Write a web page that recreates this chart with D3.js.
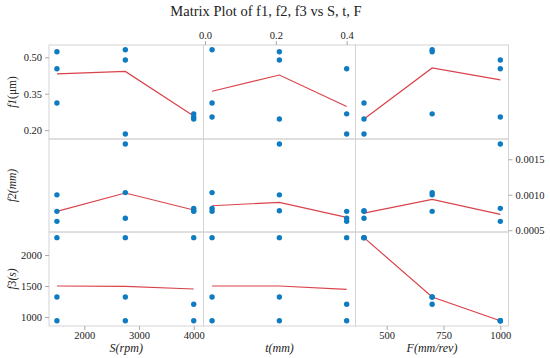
<!DOCTYPE html>
<html>
<head>
<meta charset="utf-8">
<script src="https://cdn.jsdelivr.net/npm/d3@7"></script>
<style>
  body { margin: 0; background: #fff; }
  svg { display: block; }
  .tick line { stroke: #aaa; }
</style>
</head>
<body>
<div id="chart"></div>
<script>
// nine runs (L9 design)
const S = [1500, 1500, 1500, 2750, 2750, 2750, 4000, 4000, 4000];
const t = [0.02, 0.21, 0.40, 0.02, 0.21, 0.40, 0.02, 0.21, 0.40];
const F = [400, 700, 1000, 700, 1000, 400, 1000, 400, 700];
const f1 = [0.312, 0.523, 0.453, 0.531, 0.489, 0.184, 0.254, 0.246, 0.267];
const f2 = [0.000766, 0.000998, 0.000625, 0.00103, 0.001714, 0.000668, 0.000808, 0.000775, 0.000766];
const f3 = [2280, 1323, 940, 1323, 940, 2280, 940, 2280, 1205];

// smoother values at each factor level
const levelsS = [1500, 2750, 4000];
const levelsT = [0.02, 0.21, 0.40];
const levelsF = [400, 700, 1000];
const fitF1 = { S: [0.432, 0.442, 0.258], t: [0.360, 0.427, 0.297], F: [0.246, 0.456, 0.407] };
const fitF2 = { S: [0.000766, 0.001024, 0.000785], t: [0.000845, 0.000893, 0.000682], F: [0.000742, 0.000935, 0.000724] };
const fitF3 = { S: [1500, 1495, 1452], t: [1500, 1500, 1446], F: [2280, 1323, 940] };

// tick labels
const ticksS = [2000, 3000, 4000];
const ticksT = [0.0, 0.2, 0.4];
const ticksF = [500, 750, 1000];
const ticksF1 = [0.20, 0.35, 0.50];
const ticksF2 = [0.0005, 0.0010, 0.0015];
const ticksF3 = [1000, 1500, 2000];

const W = 550, H = 358;
const SERIF = 'Liberation Serif';
const colEdges = [49, 203.5, 355.5, 508.5];
const rowEdges = [45, 139, 232, 326];

const cols = [
    { key: 'S', data: S, levels: levelsS, domain: [1355, 4179], ticks: ticksS, fmt: d3.format('d'), side: 'bottom',
      label: [{ t: 'S(rpm)', it: true }] },
    { key: 't', data: t, levels: levelsT, domain: [-0.0042, 0.4249], ticks: ticksT, fmt: d3.format('.1f'), side: 'top',
      label: [{ t: 't(mm)', it: true }] },
    { key: 'F', data: F, levels: levelsF, domain: [362.6, 1036], ticks: ticksF, fmt: d3.format('d'), side: 'bottom',
      label: [{ t: 'F(mm/rev)', it: true }] }
];
const rows = [
    { data: f1, fit: fitF1, domain: [0.1634, 0.5507], ticks: ticksF1, fmt: d3.format('.2f'), side: 'left',
      label: [{ t: 'f1', it: true }, { t: '(μm)', it: false }] },
    { data: f2, fit: fitF2, domain: [0.000475, 0.001785], ticks: ticksF2, fmt: d3.format('.4f'), side: 'right',
      label: [{ t: 'f2(mm)', it: true }] },
    { data: f3, fit: fitF3, domain: [855, 2371], ticks: ticksF3, fmt: d3.format('d'), side: 'left',
      label: [{ t: 'f3(s)', it: true }] }
];

const svg = d3.select('#chart').append('svg')
    .attr('width', W)
    .attr('height', H);

svg.append('rect').attr('width', W).attr('height', H).attr('fill', '#fff');

svg.append('text')
    .attr('x', 266)
    .attr('y', 16)
    .attr('text-anchor', 'middle')
    .style('font-family', SERIF)
    .style('font-size', '14.5px')
    .attr('fill', '#222')
    .text('Matrix Plot of f1, f2, f3 vs S, t, F');

const xScales = cols.map((c, i) => d3.scaleLinear().domain(c.domain).range([colEdges[i], colEdges[i + 1]]));
const yScales = rows.map((r, j) => d3.scaleLinear().domain(r.domain).range([rowEdges[j + 1], rowEdges[j]]));

// panels
rows.forEach((r, j) => {
    cols.forEach((c, i) => {
        const x = xScales[i], y = yScales[j];
        const g = svg.append('g');

        g.append('rect')
            .attr('x', colEdges[i])
            .attr('y', rowEdges[j])
            .attr('width', colEdges[i + 1] - colEdges[i])
            .attr('height', rowEdges[j + 1] - rowEdges[j])
            .attr('fill', 'none')
            .attr('stroke', '#d4d4d4')
            .attr('stroke-width', 1);

        const line = d3.line()
            .x(d => x(d[0]))
            .y(d => y(d[1]));
        g.append('path')
            .datum(c.levels.map((lv, k) => [lv, r.fit[c.key][k]]))
            .attr('d', line)
            .attr('fill', 'none')
            .attr('stroke', '#d9434a')
            .attr('stroke-width', 1.2);

        g.selectAll('circle')
            .data(c.data.map((v, k) => [v, r.data[k]]))
            .enter()
            .append('circle')
            .attr('cx', d => x(d[0]))
            .attr('cy', d => y(d[1]))
            .attr('r', 2.7)
            .attr('fill', '#0f7cc1');
    });
});

function styleAxis(ag) {
    ag.select('.domain').remove();
    ag.selectAll('.tick text')
        .style('font-family', SERIF)
        .style('font-size', '10.5px')
        .attr('fill', '#222');
}

// x axes
cols.forEach((c, i) => {
    const isTop = c.side === 'top';
    const axis = (isTop ? d3.axisTop(xScales[i]) : d3.axisBottom(xScales[i]))
        .tickValues(c.ticks)
        .tickFormat(c.fmt)
        .tickSize(4)
        .tickPadding(2);
    const ag = svg.append('g')
        .attr('transform', `translate(0,${isTop ? rowEdges[0] : rowEdges[3]})`)
        .call(axis);
    styleAxis(ag);

    const lbl = svg.append('text')
        .attr('x', (colEdges[i] + colEdges[i + 1]) / 2)
        .attr('y', 352)
        .attr('text-anchor', 'middle')
        .style('font-family', SERIF)
        .style('font-size', '12px')
        .attr('fill', '#222');
    c.label.forEach(p => lbl.append('tspan').style('font-style', p.it ? 'italic' : 'normal').text(p.t));
});

// y axes
rows.forEach((r, j) => {
    const isLeft = r.side === 'left';
    const axis = (isLeft ? d3.axisLeft(yScales[j]) : d3.axisRight(yScales[j]))
        .tickValues(r.ticks)
        .tickFormat(r.fmt)
        .tickSize(4)
        .tickPadding(3);
    const ag = svg.append('g')
        .attr('transform', `translate(${isLeft ? colEdges[0] : colEdges[3]},0)`)
        .call(axis);
    styleAxis(ag);

    const cy = (rowEdges[j] + rowEdges[j + 1]) / 2;
    const lbl = svg.append('text')
        .attr('transform', `translate(16,${cy}) rotate(-90)`)
        .attr('text-anchor', 'middle')
        .style('font-family', SERIF)
        .style('font-size', '11.5px')
        .attr('fill', '#222');
    r.label.forEach(p => lbl.append('tspan').style('font-style', p.it ? 'italic' : 'normal').text(p.t));
});
</script>
</body>
</html>
